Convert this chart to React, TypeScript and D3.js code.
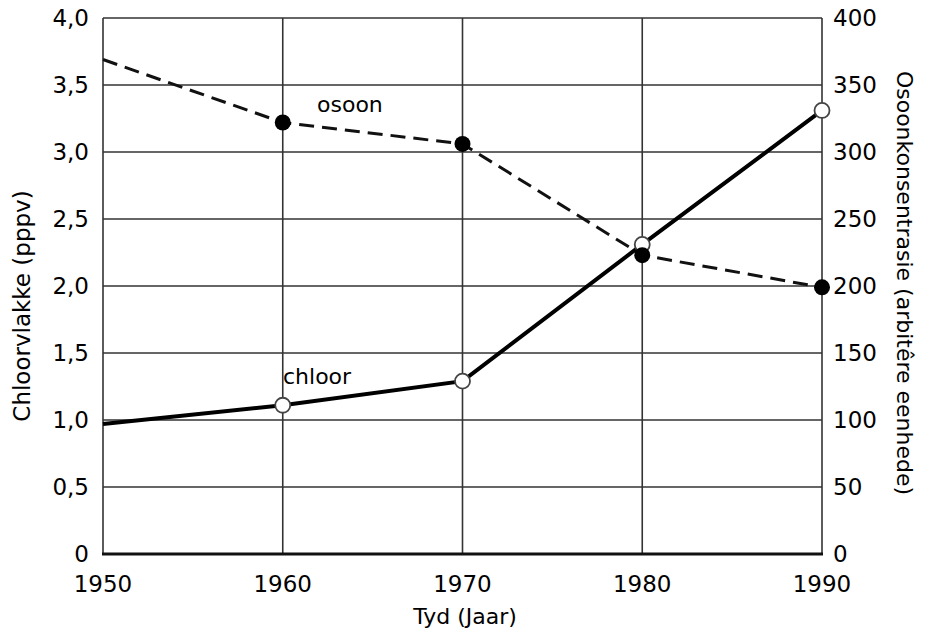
import * as d3 from 'd3';
import React, { useEffect, useRef } from 'react';

// seeder data
const years = [1950, 1960, 1970, 1980, 1990];
const chloor = [0.97, 1.11, 1.29, 2.31, 3.31];
const osoon = [369, 322, 306, 223, 199];
const leftTicks = ['0', '0,5', '1,0', '1,5', '2,0', '2,5', '3,0', '3,5', '4,0'];
const rightTicks = [0, 50, 100, 150, 200, 250, 300, 350, 400];

const w = 929;
const h = 631;
const margin = { top: 18, right: 107, bottom: 77, left: 103 };

const App = () => {
	const ref = useRef(null);

	useEffect(() => {
		const svg = d3.select(ref.current);
		svg.selectAll('*').remove();

		const font = 'DejaVu Sans, sans-serif';

		const x = d3.scaleLinear()
			.domain([1950, 1990])
			.range([margin.left, w - margin.right]);
		const yl = d3.scaleLinear()
			.domain([0, 4])
			.range([h - margin.bottom, margin.top]);
		const yr = d3.scaleLinear()
			.domain([0, 400])
			.range([h - margin.bottom, margin.top]);

		// grid
		const grid = svg.append('g').attr('stroke', '#333').attr('stroke-width', 1.6);
		grid.selectAll('.hl')
			.data(d3.range(1, 9).map(i => i * 0.5))
			.join('line')
			.attr('x1', x(1950))
			.attr('x2', x(1990))
			.attr('y1', d => yl(d))
			.attr('y2', d => yl(d));
		grid.selectAll('.vl')
			.data(years)
			.join('line')
			.attr('x1', d => x(d))
			.attr('x2', d => x(d))
			.attr('y1', yl(0))
			.attr('y2', yl(4));
		svg.append('line')
			.attr('x1', x(1950) - 1)
			.attr('x2', x(1990) + 1)
			.attr('y1', yl(0))
			.attr('y2', yl(0))
			.attr('stroke', '#111')
			.attr('stroke-width', 3);

		// left ticks
		svg.append('g')
			.selectAll('text')
			.data(leftTicks)
			.join('text')
			.attr('x', 89)
			.attr('y', (d, i) => yl(i * 0.5))
			.attr('dy', '0.36em')
			.attr('text-anchor', 'end')
			.style('font-family', font)
			.style('font-size', 23)
			.text(d => d);

		// right ticks
		svg.append('g')
			.selectAll('text')
			.data(rightTicks)
			.join('text')
			.attr('x', 833)
			.attr('y', d => yr(d))
			.attr('dy', '0.36em')
			.style('font-family', font)
			.style('font-size', 23)
			.text(d => d);

		// x ticks
		svg.append('g')
			.selectAll('text')
			.data(years)
			.join('text')
			.attr('x', d => x(d))
			.attr('y', 592)
			.attr('text-anchor', 'middle')
			.style('font-family', font)
			.style('font-size', 23)
			.text(d => d);

		// axis titles
		svg.append('text')
			.attr('x', 465)
			.attr('y', 624)
			.attr('text-anchor', 'middle')
			.style('font-family', font)
			.style('font-size', 22)
			.text('Tyd (Jaar)');
		svg.append('text')
			.attr('transform', 'translate(30,306) rotate(-90)')
			.attr('text-anchor', 'middle')
			.style('font-family', font)
			.style('font-size', 23)
			.text('Chloorvlakke (pppv)');
		svg.append('text')
			.attr('transform', 'translate(897,283) rotate(90)')
			.attr('text-anchor', 'middle')
			.style('font-family', font)
			.style('font-size', 22)
			.text('Osoonkonsentrasie (arbitêre eenhede)');

		// osoon dashed
		const oData = years.map((d, i) => ({ year: d, value: osoon[i] }));
		svg.append('path')
			.datum(oData)
			.attr('fill', 'none')
			.attr('stroke', '#111')
			.attr('stroke-width', 3)
			.attr('stroke-dasharray', '15 8')
			.attr('d', d3.line<any>().x(d => x(d.year)).y(d => yr(d.value)));

		// chloor solid
		const cData = years.map((d, i) => ({ year: d, value: chloor[i] }));
		svg.append('path')
			.datum(cData)
			.attr('fill', 'none')
			.attr('stroke', '#000')
			.attr('stroke-width', 4)
			.attr('d', d3.line<any>().x(d => x(d.year)).y(d => yl(d.value)));

		svg.selectAll('.cdot')
			.data(cData.slice(1))
			.join('circle')
			.attr('cx', d => x(d.year))
			.attr('cy', d => yl(d.value))
			.attr('r', 7.5)
			.attr('fill', '#fff')
			.attr('stroke', '#444')
			.attr('stroke-width', 1.8);

		svg.selectAll('.odot')
			.data(oData.slice(1))
			.join('circle')
			.attr('cx', d => x(d.year))
			.attr('cy', d => yr(d.value))
			.attr('r', 8)
			.attr('fill', '#000');

		// series labels
		svg.append('text')
			.attr('x', 317)
			.attr('y', 112)
			.style('font-family', font)
			.style('font-size', 22)
			.text('osoon');
		svg.append('text')
			.attr('x', 283)
			.attr('y', 384)
			.style('font-family', font)
			.style('font-size', 22)
			.text('chloor');
	}, []);

	return (
		<svg ref={ref} width={w} height={h} style={{ position: 'absolute', left: 0, top: 0, background: '#fff' }} />
	);
};

export default App;
